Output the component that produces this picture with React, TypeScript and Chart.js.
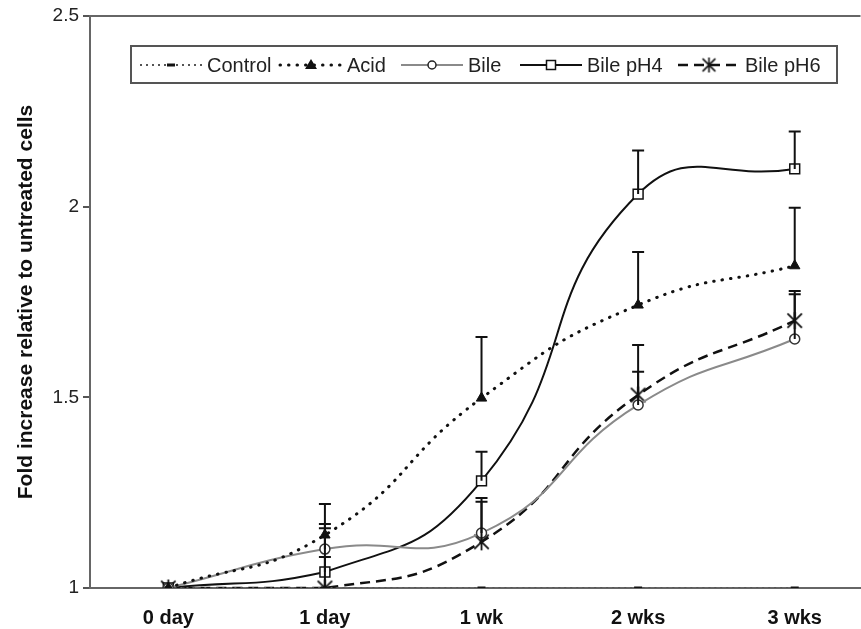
import React, { useEffect, useRef } from 'react';
import { Chart, registerables } from 'chart.js';

Chart.register(...registerables);

const categories = ['0 day', '1 day', '1 wk', '2 wks', '3 wks'];
const seriesNames = ['Control', 'Acid', 'Bile', 'Bile pH4', 'Bile pH6'];
const controlValues = [1, 1, 1, 1, 1];
const acidValues = [1, 1.139, 1.498, 1.742, 1.845];
const acidErrTop = [null, 1.22, 1.658, 1.881, 1.997];
const bileValues = [1, 1.102, 1.144, 1.48, 1.653];
const bileErrTop = [null, 1.168, 1.236, 1.567, 1.77];
const bilePH4Values = [1, 1.042, 1.281, 2.033, 2.099];
const bilePH4ErrTop = [null, 1.081, 1.357, 2.147, 2.197];
const bilePH6Values = [1, 1.0, 1.121, 1.506, 1.701];
const bilePH6ErrTop = [null, 1.157, 1.226, 1.637, 1.779];
const yRange = [1, 2.5];
const xRange = [-0.5, 4.42];

const FONT = "'Liberation Sans', Arial, sans-serif";
const CANVAS_W = 872;

function makeStar(size: number, lw: number) {
  const c = document.createElement('canvas');
  c.width = size;
  c.height = size;
  const ctx = c.getContext('2d')!;
  ctx.strokeStyle = '#111';
  ctx.lineWidth = lw;
  const h = size / 2;
  const r = size / 2 - 1;
  const d = r * 0.85;
  ctx.beginPath();
  ctx.moveTo(h, h - r);
  ctx.lineTo(h, h + r);
  ctx.moveTo(h - d, h - d);
  ctx.lineTo(h + d, h + d);
  ctx.moveTo(h + d, h - d);
  ctx.lineTo(h - d, h + d);
  ctx.stroke();
  return c;
}

function toPoints(vals: number[]) {
  return vals.map((v, i) => ({ x: i, y: v }));
}

export default function App() {
  const ref = useRef<HTMLCanvasElement>(null);

  useEffect(() => {
    if (!ref.current) return;
    const star = makeStar(19, 1.8);
    const starSmall = makeStar(17, 1.6);

    const errs: (number | null)[][] = [[], acidErrTop, bileErrTop, bilePH4ErrTop, bilePH6ErrTop];

    const errorBars = {
      id: 'errorBars',
      afterDatasetsDraw(chart: any) {
        const ctx = chart.ctx;
        const xs = chart.scales.x;
        const ys = chart.scales.y;
        ctx.save();
        ctx.strokeStyle = '#111';
        ctx.lineWidth = 2;
        chart.data.datasets.forEach((ds: any, di: number) => {
          const e = errs[di];
          if (!e) return;
          e.forEach((top, i) => {
            if (top == null) return;
            const x = xs.getPixelForValue(i);
            const y0 = ys.getPixelForValue(ds.data[i].y);
            const y1 = ys.getPixelForValue(top);
            ctx.beginPath();
            ctx.moveTo(x, y0);
            ctx.lineTo(x, y1);
            ctx.moveTo(x - 6, y1);
            ctx.lineTo(x + 6, y1);
            ctx.stroke();
          });
        });
        ctx.restore();
      },
    };

    const legendStarts = [140, 280, 401, 520, 678];
    const customLegend = {
      id: 'customLegend',
      afterDraw(chart: any) {
        const ctx = chart.ctx;
        ctx.save();
        ctx.fillStyle = '#fff';
        ctx.fillRect(131, 46, 706, 37);
        ctx.strokeStyle = '#555';
        ctx.lineWidth = 2;
        ctx.strokeRect(131, 46, 706, 37);
        const cy = 65;
        chart.data.datasets.forEach((ds: any, i: number) => {
          const sx = legendStarts[i];
          ctx.save();
          ctx.strokeStyle = ds.borderColor;
          ctx.lineWidth = ds.borderWidth;
          ctx.setLineDash(ds.borderDash || []);
          ctx.lineCap = ds.borderCapStyle || 'butt';
          ctx.beginPath();
          ctx.moveTo(sx, cy);
          ctx.lineTo(sx + 62, cy);
          ctx.stroke();
          ctx.restore();
          const mx = sx + 31;
          ctx.save();
          ctx.setLineDash([]);
          if (i === 0) {
            ctx.fillStyle = '#111';
            ctx.fillRect(mx - 4, cy - 1.5, 8, 3);
          } else if (i === 1) {
            ctx.fillStyle = '#111';
            ctx.beginPath();
            ctx.moveTo(mx, cy - 6);
            ctx.lineTo(mx + 6, cy + 4);
            ctx.lineTo(mx - 6, cy + 4);
            ctx.closePath();
            ctx.fill();
          } else if (i === 2) {
            ctx.fillStyle = '#fff';
            ctx.strokeStyle = '#222';
            ctx.lineWidth = 1.5;
            ctx.beginPath();
            ctx.arc(mx, cy, 4, 0, Math.PI * 2);
            ctx.fill();
            ctx.stroke();
          } else if (i === 3) {
            ctx.fillStyle = '#fff';
            ctx.strokeStyle = '#111';
            ctx.lineWidth = 1.5;
            ctx.fillRect(mx - 4.5, cy - 4.5, 9, 9);
            ctx.strokeRect(mx - 4.5, cy - 4.5, 9, 9);
          } else {
            ctx.drawImage(starSmall, mx - 8.5, cy - 8.5);
          }
          ctx.restore();
          ctx.fillStyle = '#222';
          ctx.font = `20px ${FONT}`;
          ctx.textBaseline = 'middle';
          ctx.textAlign = 'left';
          ctx.fillText(seriesNames[i], sx + 67, cy + 1);
        });
        ctx.restore();
      },
    };

    const chart = new Chart(ref.current, {
      type: 'line',
      data: {
        datasets: [
          {
            label: seriesNames[0],
            data: toPoints(controlValues),
            borderColor: '#555',
            borderWidth: 2,
            borderDash: [2, 4],
            pointStyle: 'line',
            pointRadius: 4,
            pointBorderWidth: 3,
            pointBorderColor: '#111',
            tension: 0.5,
          },
          {
            label: seriesNames[1],
            data: toPoints(acidValues),
            borderColor: '#111',
            borderWidth: 3,
            borderDash: [0.5, 8],
            borderCapStyle: 'round',
            pointStyle: 'triangle',
            pointRadius: 6,
            pointBackgroundColor: '#111',
            pointBorderColor: '#111',
            pointBorderWidth: 1,
            tension: 0.5,
          },
          {
            label: seriesNames[2],
            data: toPoints(bileValues),
            borderColor: '#8a8a8a',
            borderWidth: 2,
            pointStyle: 'circle',
            pointRadius: 5,
            pointBackgroundColor: '#fff',
            pointBorderColor: '#333',
            pointBorderWidth: 1.5,
            tension: 0.5,
          },
          {
            label: seriesNames[3],
            data: toPoints(bilePH4Values),
            borderColor: '#111',
            borderWidth: 2,
            pointStyle: 'rect',
            pointRadius: 7,
            pointBackgroundColor: '#fff',
            pointBorderColor: '#111',
            pointBorderWidth: 1.5,
            tension: 0.5,
          },
          {
            label: seriesNames[4],
            data: toPoints(bilePH6Values),
            borderColor: '#111',
            borderWidth: 2.5,
            borderDash: [10, 6],
            pointStyle: star as any,
            pointRadius: 9,
            tension: 0.5,
          },
        ],
      },
      options: {
        responsive: false,
        animation: false,
        events: [],
        layout: { padding: { top: 16, right: 0, left: 0, bottom: 0 } },
        plugins: {
          legend: { display: false },
          tooltip: { enabled: false },
        },
        scales: {
          x: {
            type: 'linear',
            min: xRange[0],
            max: xRange[1],
            afterBuildTicks: (scale: any) => {
              scale.ticks = categories.map((_, i) => ({ value: i }));
            },
            afterFit: (scale: any) => {
              scale.height = 41;
            },
            grid: { display: false, drawTicks: false },
            border: { display: true, color: '#666', width: 2 },
            ticks: {
              autoSkip: false,
              maxRotation: 0,
              padding: 18,
              color: '#111',
              font: { family: FONT, size: 20, weight: 'bold' },
              callback: (v: any) => categories[Math.round(Number(v))] ?? '',
            },
          },
          y: {
            min: yRange[0],
            max: yRange[1],
            afterFit: (scale: any) => {
              scale.width = 90;
            },
            grid: {
              color: (c: any) => (c.tick && c.tick.value === yRange[1] ? '#666' : 'rgba(0,0,0,0)'),
              lineWidth: 2,
              tickColor: '#555',
              tickLength: 7,
              tickWidth: 2,
            },
            border: { display: true, color: '#666', width: 2 },
            ticks: {
              stepSize: 0.5,
              padding: 4,
              color: '#222',
              font: { family: FONT, size: 19 },
              callback: (v: any) => String(Number(v)),
            },
            title: {
              display: true,
              text: 'Fold increase relative to untreated cells',
              color: '#111',
              font: { family: FONT, size: 21, weight: 'bold' },
              padding: { top: 14, bottom: 0 },
            },
          },
        },
      },
      plugins: [errorBars, customLegend],
    } as any);

    return () => chart.destroy();
  }, []);

  return (
    <div
      style={{
        position: 'fixed',
        left: 0,
        top: 0,
        width: 861,
        height: 629,
        overflow: 'hidden',
        background: '#fff',
      }}
    >
      <canvas ref={ref} width={CANVAS_W} height={629} style={{ display: 'block' }} />
    </div>
  );
}
